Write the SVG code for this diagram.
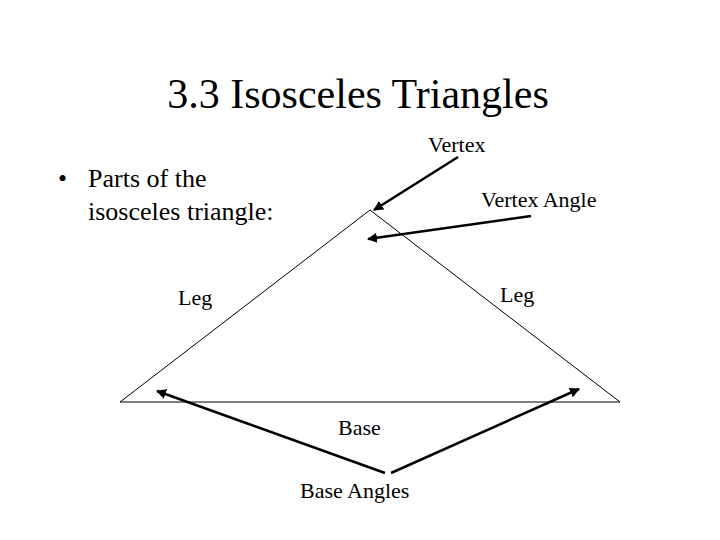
<svg xmlns="http://www.w3.org/2000/svg" width="720" height="540" viewBox="0 0 720 540" font-family="'Liberation Serif','Times New Roman','DejaVu Serif',serif">
<style>
text{fill:#000}
.l{font-size:22px}
.arr{stroke:#000;stroke-width:2.5;marker-end:url(#ah)}
</style>
<defs><marker id="ah" viewBox="0 0 10 10" refX="9" refY="5" markerWidth="4" markerHeight="4" orient="auto"><path d="M0,0L10,5L0,10z" fill="#000"/></marker></defs>
<rect width="720" height="540" fill="#fff"/>
<text x="358" y="108" font-size="42" text-anchor="middle">3.3 Isosceles Triangles</text>
<text x="58" y="187" font-size="26">•</text>
<text x="88" y="187" font-size="26">Parts of the</text>
<text x="88" y="220" font-size="26">isosceles triangle:</text>
<g id="triangle"><polygon points="370,210 120,402 620,402" fill="none" stroke="#000" stroke-width="1"/></g>
<g id="labels">
<text class="l" x="428" y="152">Vertex</text>
<text class="l" x="481" y="207">Vertex Angle</text>
<text class="l" x="178" y="305">Leg</text>
<text class="l" x="500" y="302">Leg</text>
<text class="l" x="338" y="435">Base</text>
<text class="l" x="300" y="498">Base Angles</text>
</g>
<g id="connectors">
<line class="arr" x1="458" y1="157" x2="374" y2="210"/>
<line class="arr" x1="531" y1="216" x2="368" y2="239"/>
<line class="arr" x1="385" y1="473" x2="157" y2="391"/>
<line class="arr" x1="391" y1="473" x2="579" y2="389"/>
</g>
</svg>
